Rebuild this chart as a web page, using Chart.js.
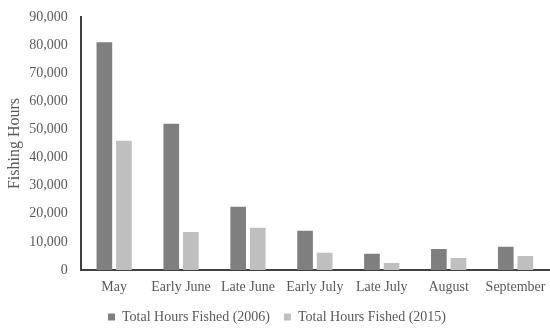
<!DOCTYPE html>
<html>
<head>
<meta charset="utf-8">
<script src="https://cdn.jsdelivr.net/npm/chart.js@4.4.1/dist/chart.umd.min.js"></script>
<style>
  html, body { margin: 0; padding: 0; background: #ffffff; }
  #wrap { width: 550px; height: 328px; }
</style>
</head>
<body>
<div id="wrap"><canvas id="chart" width="550" height="328"></canvas></div>
<script>
// Fishing effort by period, two survey years
const periods = ["May", "Early June", "Late June", "Early July", "Late July", "August", "September"];
const hours2006 = [81000, 52000, 22500, 14000, 5800, 7500, 8300];
const hours2015 = [46000, 13500, 15000, 6100, 2500, 4300, 5000];
const yTicks = [0, 10000, 20000, 30000, 40000, 50000, 60000, 70000, 80000, 90000];

const serif = "'Liberation Serif', 'Times New Roman', serif";
const textGrey = "#595959";

new Chart(document.getElementById("chart"), {
  type: "bar",
  data: {
    labels: periods,
    datasets: [
      { label: "Total Hours Fished (2006)", data: hours2006, backgroundColor: "#7f7f7f" },
      { label: "Total Hours Fished (2015)", data: hours2015, backgroundColor: "#bfbfbf" }
    ]
  },
  options: {
    responsive: false,
    animation: false,
    devicePixelRatio: 1,
    layout: { padding: { top: 17, right: 1, left: 5, bottom: -6 } },
    datasets: { bar: { categoryPercentage: 0.585, barPercentage: 0.8 } },
    plugins: {
      tooltip: { enabled: false },
      legend: {
        position: "bottom",
        labels: {
          boxWidth: 7,
          boxHeight: 7,
          padding: 14,
          color: textGrey,
          font: { family: serif, size: 14 }
        }
      }
    },
    scales: {
      x: {
        grid: { display: false },
        border: { display: true, color: "#404040", width: 2 },
        ticks: {
          color: textGrey,
          font: { family: serif, size: 14, lineHeight: 1 },
          padding: 2,
          maxRotation: 0
        }
      },
      y: {
        min: 0,
        max: 90000,
        afterBuildTicks: (axis) => { axis.ticks = yTicks.map(v => ({ value: v })); },
        grid: { display: false },
        border: { display: true, color: "#404040", width: 2 },
        ticks: {
          color: textGrey,
          font: { family: serif, size: 14 },
          padding: 5,
          callback: (v) => v.toLocaleString("en-US")
        },
        title: {
          display: true,
          text: "Fishing Hours",
          color: textGrey,
          font: { family: serif, size: 16 },
          padding: { top: 0, bottom: 0 }
        }
      }
    }
  }
});
</script>
</body>
</html>
